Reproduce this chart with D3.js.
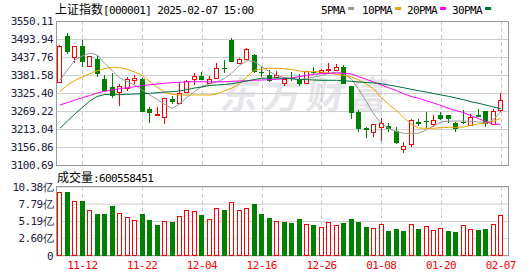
<!DOCTYPE html>
<html>
<head>
<meta charset="utf-8">
<script src="https://cdn.jsdelivr.net/npm/d3@7"></script>
<style>
body{margin:0;background:#fff;}
svg text{font-family:"DejaVu Sans Mono",monospace;font-size:11px;letter-spacing:-0.6px;}
svg .cjk{font-family:"Noto Sans CJK SC",sans-serif;font-size:12px;letter-spacing:0;}
</style>
</head>
<body>
<div id="chart"></div>
<script>
// daily bars, 2024-11-07 .. 2025-02-07
var dates = ["11-07","11-08","11-11","11-12","11-13","11-14","11-15","11-18","11-19","11-20",
  "11-21","11-22","11-25","11-26","11-27","11-28","11-29","12-02","12-03","12-04",
  "12-05","12-06","12-09","12-10","12-11","12-12","12-13","12-16","12-17","12-18",
  "12-19","12-20","12-23","12-24","12-25","12-26","12-27","12-30","12-31","01-02",
  "01-03","01-06","01-07","01-08","01-09","01-10","01-13","01-14","01-15","01-16",
  "01-17","01-20","01-21","01-22","01-23","01-24","01-27","02-05","02-06","02-07"];
var openP = [3360,3504,3437,3472,3410,3431,3369,3343,3328,3340, 3365,3368,3276,3256,3252,3307,3295,3329,3368,3378,
  3358,3373,3403,3491,3418,3433,3444,3392,3382,3376, 3358,3372,3366,3356,3392,3392,3396,3397,3406,3347,
  3267,3215,3205,3220,3221,3208,3150,3165,3234,3238, 3228,3256,3256,3231,3236,3225,3257,3269,3228,3272];
var highP = [3474,3512,3473,3491,3441,3444,3382,3389,3353,3376, 3382,3373,3283,3283,3310,3317,3361,3366,3389,3390,
  3378,3420,3428,3498,3436,3467,3446,3406,3397,3394, 3376,3392,3384,3393,3406,3399,3418,3415,3413,3348,
  3273,3220,3229,3247,3231,3218,3172,3243,3244,3265, 3257,3267,3258,3236,3272,3260,3276,3270,3276,3324];
var lowP = [3356,3446,3418,3406,3407,3376,3331,3311,3286,3333, 3353,3265,3233,3253,3228,3291,3294,3325,3350,3365,
  3355,3371,3389,3421,3417,3428,3389,3376,3359,3374, 3348,3363,3348,3355,3384,3389,3384,3394,3353,3243,
  3205,3186,3189,3176,3205,3167,3139,3158,3222,3215, 3218,3241,3231,3205,3230,3223,3249,3220,3227,3267];
var closeP = [3471,3454,3472,3422,3440,3384,3332,3316,3347,3368, 3372,3267,3264,3260,3309,3296,3326,3363,3379,3367,
  3369,3404,3402,3423,3433,3462,3392,3389,3362,3382, 3370,3368,3352,3393,3390,3398,3400,3407,3355,3263,
  3212,3211,3228,3231,3212,3168,3160,3241,3228,3236, 3241,3245,3243,3214,3231,3252,3251,3229,3270,3303];

// volume in 亿, and whether the bar is drawn as up (red) or down (green)
var volume = [9.60,9.70,8.24,8.30,6.80,6.39,6.39,7.60,6.35,5.75, 5.30,6.39,5.49,4.74,5.15,5.19,5.90,6.80,6.69,6.24,
  5.45,7.10,7.00,8.00,6.80,7.10,7.90,6.39,5.84,5.19, 5.19,5.04,5.69,4.74,4.74,4.29,4.99,4.59,5.04,5.64,
  5.19,4.44,4.09,4.74,3.84,4.14,3.84,4.74,4.14,4.44, 3.84,4.14,3.84,3.69,4.59,3.99,4.03,4.14,4.74,6.09];
var volUp = [1,0,1,0,1,0,0,0,1,1, 1,0,0,0,1,0,1,1,1,0, 1,1,0,1,1,1,0,0,0,1,
  0,0,0,1,0,1,1,1,0,0, 0,0,1,1,0,0,0,1,0,1, 1,1,0,0,1,1,0,0,1,1];

// moving averages
var ma5 = [3366.0,3397.2,3428.4,3440.9,3450.2,3444.0,3417.5,3395.6,3372.2,3361.3, 3350.4,3334.8,3319.2,3305.7,3290.1,3277.6,3291.1,3312.0,3329.5,3345.7,
  3353.5,3359.7,3370.7,3387.8,3411.2,3426.2,3423.7,3407.5,3392.5,3380.0, 3373.8,3370.7,3366.9,3370.0,3375.3,3380.0,3386.3,3391.0,3384.7,3369.1,
  3336.3,3298.9,3259.8,3230.2,3215.2,3205.2,3199.6,3199.6,3199.6,3209.9, 3222.4,3234.9,3238.0,3238.0,3238.0,3237.1,3234.9,3233.3,3241.2,3267.6];
var ma10 = [3329.5,3350.4,3364.4,3375.3,3385.6,3395.0,3401.9,3404.4,3404.4,3399.4, 3391.0,3380.6,3361.3,3344.1,3327.6,3321.4,3319.2,3319.2,3319.2,3319.2,
  3319.2,3322.3,3331.6,3341.0,3353.5,3375.3,3396.3,3400.3,3402.5,3402.5, 3401.2,3398.7,3394.1,3391.9,3391.9,3391.0,3387.8,3383.2,3380.6,3375.3,
  3366.0,3353.5,3337.9,3311.4,3290.1,3271.4,3248.3,3228.6,3216.2,3215.2, 3215.2,3217.1,3218.3,3218.3,3219.3,3224.6,3228.6,3231.8,3237.1,3246.4];
var ma20 = [3288.0,3295.7,3303.5,3310.7,3317.6,3325.4,3330.7,3334.8,3338.8,3341.9, 3345.0,3348.2,3351.3,3353.5,3355.7,3357.6,3358.8,3360.2,3360.8,3360.4,
  3360.0,3360.2,3360.7,3361.9,3362.8,3363.8,3365.0,3366.0,3366.9,3368.2, 3370.0,3372.2,3376.3,3380.6,3383.8,3385.6,3386.9,3387.8,3386.9,3384.7,
  3376.3,3368.2,3359.7,3350.4,3341.9,3333.2,3323.2,3314.5,3308.9,3301.4, 3294.2,3286.4,3277.6,3270.8,3264.5,3254.5,3245.8,3236.5,3227.7,3227.7];
var ma30 = [3215.2,3238.0,3259.8,3280.2,3300.4,3314.5,3320.7,3320.1,3320.1,3321.4, 3322.3,3323.2,3324.5,3326.3,3328.5,3329.5,3331.7,3335.7,3341.0,3344.1,
  3348.8,3350.4,3351.9,3354.4,3358.2,3362.8,3367.5,3371.3,3372.2,3372.2, 3371.3,3370.0,3368.2,3366.9,3366.0,3365.0,3365.0,3365.0,3363.8,3361.9,
  3359.7,3358.2,3356.6,3354.4,3350.4,3346.3,3341.9,3337.0,3332.6,3328.5, 3323.8,3319.2,3315.1,3309.8,3304.5,3298.3,3293.3,3288.0,3281.7,3276.4];

var priceTicks = [3550.11,3493.94,3437.76,3381.58,3325.40,3269.22,3213.04,3156.86,3100.69];
var volTicks = [10.38,7.79,5.19,2.60,0];
var dateTicks = ["11-12","11-22","12-04","12-16","12-26","01-08","01-20","02-07"];
var maNames = ["5PMA","10PMA","20PMA","30PMA"];

var RED = "#ff0000", GREEN = "#008000";
var maColors = ["#999999","#f0a000","#ff00ff","#006f3a"];

var W = 530, H = 276;
var pLeft = 56, pRight = 509, pTop = 21, pBottom = 165, vTop = 186.5, vBottom = 255.5;

var svg = d3.select("#chart").append("svg")
    .attr("width", W).attr("height", H);

var x = d3.scaleBand().domain(dates).range([56.2, 504.5]);
var y = d3.scaleLinear().domain([3100.69, 3550.11]).range([pBottom, pTop]);
var yv = d3.scaleLinear().domain([0, 10.38]).range([vBottom, vTop]);

function cx(d){ return x(d) + x.bandwidth()/2; }
function bodyLeft(d){ return Math.round(cx(d) - 2.5); }

// watermark
svg.append("text")
    .attr("class","cjk")
    .attr("x", 220).attr("y", 109)
    .attr("transform","skewX(-10) translate(18,0)")
    .style("font-size","38px").style("font-weight","bold").style("letter-spacing","5px")
    .attr("fill","#e6e6ea")
    .text("东方财富");

// price grid + labels
var yAxis = svg.append("g")
    .attr("transform","translate(" + pLeft + ",0)")
    .call(d3.axisLeft(y).tickValues(priceTicks).tickSize(-(pRight-pLeft)).tickPadding(3)
          .tickFormat(function(d){ return d.toFixed(2); }));
yAxis.select(".domain").remove();
yAxis.selectAll("line").attr("stroke","#d0d0d0");
yAxis.selectAll("text").attr("fill","#202040");

var vAxis = svg.append("g")
    .attr("transform","translate(" + pLeft + ",0)")
    .call(d3.axisLeft(yv).tickValues(volTicks).tickSize(-(pRight-pLeft)).tickPadding(3)
          .tickFormat(function(d){ return d === 0 ? "0" : d.toFixed(2) + "亿"; }));
vAxis.select(".domain").remove();
vAxis.selectAll("line").attr("stroke","#d0d0d0");
vAxis.selectAll("text").attr("fill","#202040");

// dashed date lines in both panels
[[pTop, pBottom],[vTop, vBottom]].forEach(function(p){
  svg.append("g").selectAll("line")
    .data(dateTicks).enter().append("line")
    .attr("x1", function(d){ return Math.round(cx(d)) + 0.5; })
    .attr("x2", function(d){ return Math.round(cx(d)) + 0.5; })
    .attr("y1", p[0]).attr("y2", p[1])
    .attr("stroke","#c8c8c8").attr("stroke-dasharray","4,3");
});

var xAxis = svg.append("g")
    .attr("transform","translate(0," + vBottom + ")")
    .call(d3.axisBottom(x).tickValues(dateTicks).tickSize(0).tickPadding(6));
xAxis.select(".domain").remove();
xAxis.selectAll("text").attr("fill", RED);

// frames
svg.append("rect").attr("x", pLeft + 0.5).attr("y", pTop + 0.5)
    .attr("width", pRight - pLeft - 1).attr("height", pBottom - pTop)
    .attr("fill","none").attr("stroke","#999");
svg.append("rect").attr("x", pLeft + 0.5).attr("y", vTop)
    .attr("width", pRight - pLeft - 1).attr("height", vBottom - vTop)
    .attr("fill","none").attr("stroke","#999");

var rows = dates.map(function(d, i){
  return {date:d, o:openP[i], h:highP[i], l:lowP[i], c:closeP[i], v:volume[i], vu:volUp[i]};
});

// volume bars
var bars = svg.append("g").attr("shape-rendering","crispEdges");
bars.selectAll("rect")
    .data(rows).enter().append("rect")
    .attr("x", function(d){ return d.vu ? bodyLeft(d.date) + 0.5 : bodyLeft(d.date); })
    .attr("y", function(d){ return Math.round(yv(d.v)) + 0.5; })
    .attr("width", function(d){ return d.vu ? 4 : 5; })
    .attr("height", function(d){ return Math.round(vBottom) - Math.round(yv(d.v)) - 1; })
    .attr("fill", function(d){ return d.vu ? "#fff" : GREEN; })
    .attr("stroke", function(d){ return d.vu ? RED : "none"; });

// candles
var candles = svg.append("g").attr("shape-rendering","crispEdges");
candles.selectAll("line")
    .data(rows).enter().append("line")
    .attr("x1", function(d){ return bodyLeft(d.date) + 2.5; })
    .attr("x2", function(d){ return bodyLeft(d.date) + 2.5; })
    .attr("y1", function(d){ return Math.round(y(d.h)); })
    .attr("y2", function(d){ return Math.round(y(d.l)); })
    .attr("stroke", function(d){ return d.c >= d.o ? RED : GREEN; });
candles.selectAll("rect")
    .data(rows).enter().append("rect")
    .attr("x", function(d){ return d.c >= d.o ? bodyLeft(d.date) + 0.5 : bodyLeft(d.date); })
    .attr("y", function(d){ return Math.round(y(Math.max(d.o, d.c))) + (d.c >= d.o ? 0.5 : 0); })
    .attr("width", function(d){ return d.c >= d.o ? 4 : 5; })
    .attr("height", function(d){
      var hgt = Math.round(y(Math.min(d.o, d.c))) - Math.round(y(Math.max(d.o, d.c)));
      return Math.max(hgt, 1);
    })
    .attr("fill", function(d){ return d.c >= d.o ? "#fff" : GREEN; })
    .attr("stroke", function(d){ return d.c >= d.o ? RED : "none"; });

// moving average lines
var line = d3.line()
    .x(function(d, i){ return cx(dates[i]); })
    .y(function(d){ return y(d); });
[ma5, ma10, ma20, ma30].forEach(function(s, k){
  svg.append("path").datum(s)
    .attr("d", line)
    .attr("fill","none")
    .attr("stroke", maColors[k])
    .attr("stroke-width", 1);
});

// title
var title = svg.append("text").attr("x", 55).attr("y", 13.5).attr("fill","#000");
title.append("tspan").attr("class","cjk").text("上证指数");
title.append("tspan").text("[000001] 2025-02-07 15:00");

// legend
var legendX = [321, 362, 407, 452];
maNames.forEach(function(n, k){
  var t = svg.append("text").attr("x", legendX[k]).attr("y", 13.5).attr("fill","#000").text(n);
  var w = t.node().getComputedTextLength();
  svg.append("rect").attr("x", legendX[k] + w + 3).attr("y", 7)
    .attr("width", 6).attr("height", 3).attr("fill", maColors[k]);
});

// volume header
var vt = svg.append("text").attr("x", 57).attr("y", 182).attr("fill","#000");
vt.append("tspan").attr("class","cjk").text("成交量");
vt.append("tspan").text(":600558451");
</script>
</body>
</html>
